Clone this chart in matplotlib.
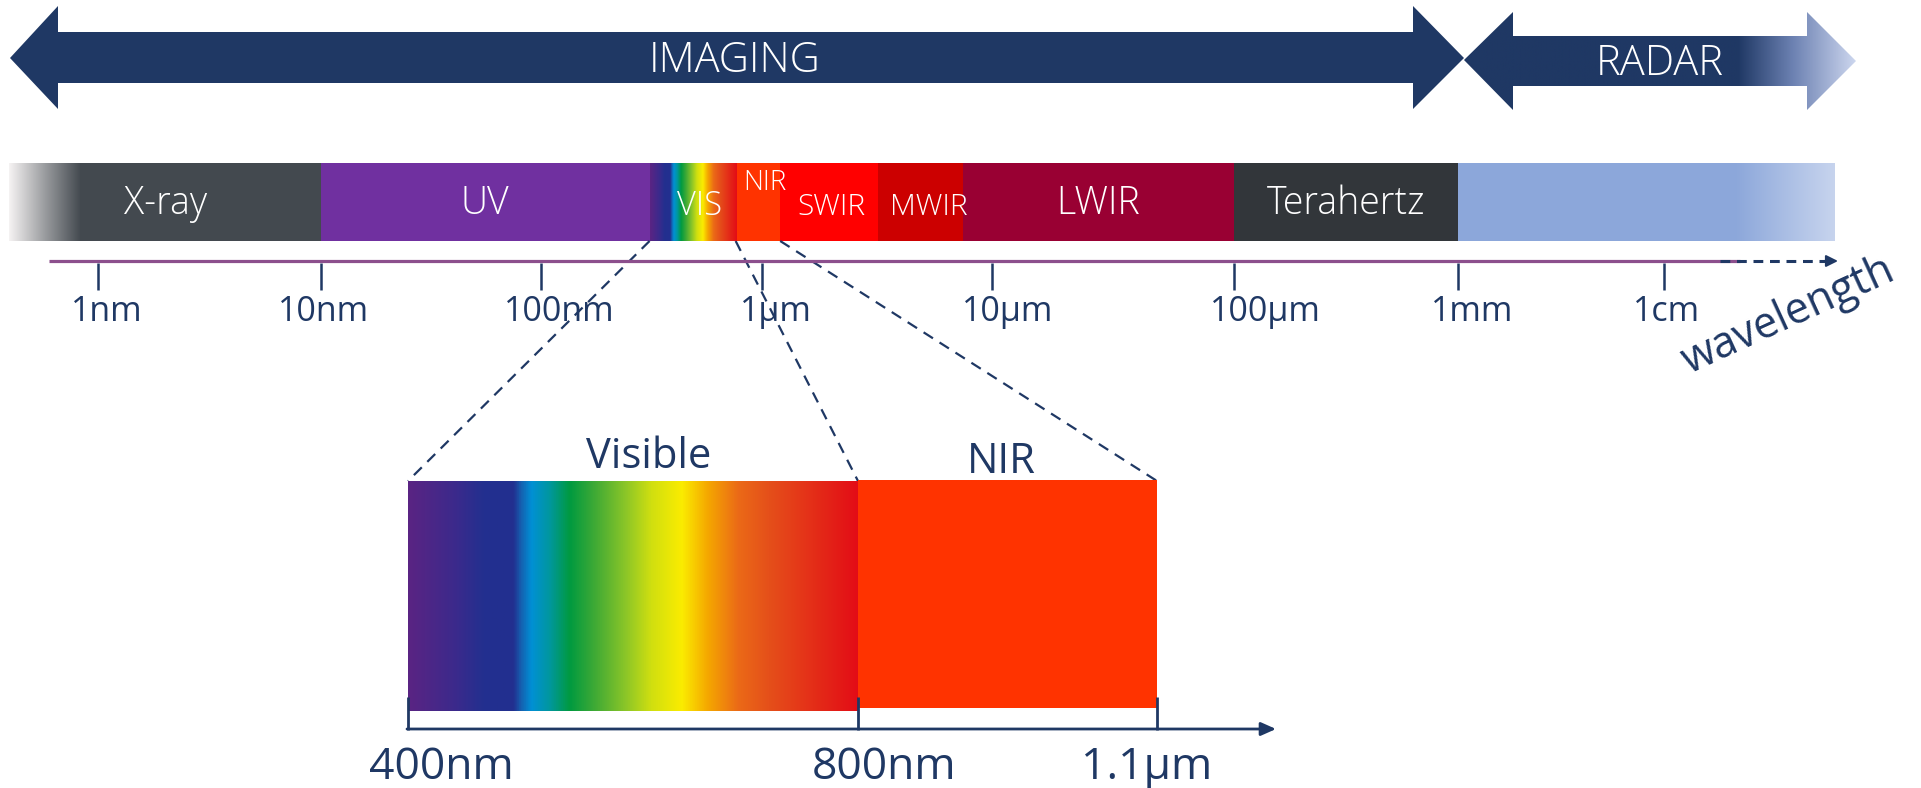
import numpy as np
import matplotlib
matplotlib.use('Agg')

import matplotlib.pyplot as plt
from matplotlib.colors import LinearSegmentedColormap
from matplotlib.patches import Polygon

plt.rcParams['font.family'] = ['Open Sans', 'DejaVu Sans']

# ==========================
# Data
# ==========================
# bands of the spectrum (wavelength in metres)
band_names = ["X-ray", "UV", "VIS", "NIR", "SWIR", "MWIR", "LWIR", "Terahertz", ""]
band_start = [0.4e-9, 10e-9, 310e-9, 0.76e-6, 1.2e-6, 3.2e-6, 7.5e-6, 100e-6, 1e-3]
band_end = [10e-9, 310e-9, 0.76e-6, 1.2e-6, 3.2e-6, 7.5e-6, 100e-6, 1e-3, 68e-3]

tick_values = [1e-9, 1e-8, 1e-7, 1e-6, 1e-5, 1e-4, 1e-3, 1e-2]
tick_labels = ["1nm", "10nm", "100nm", "1µm", "10µm", "100µm", "1mm", "1cm"]

# zoomed part (nm)
zoom_names = ["Visible", "NIR"]
zoom_start = [400, 800]
zoom_end = [800, 1100]
zoom_ticks = [400, 800, 1100]
zoom_tick_labels = ["400nm", "800nm", "1.1µm"]

use_names = ["IMAGING", "RADAR"]

# ==========================
# Styles / layout (pixels)
# ==========================
W, H = 1921, 788
NAVY = "#1f3864"
band_colors = ["#43494f", "#7030a0", None, "#ff3300", "#ff0000",
               "#cc0000", "#990033", "#32363a", "#8ca7da"]
band_fs = [27, 27, 23.5, 20, 21.5, 21.5, 27, 27, 27]
band_text_y = [204, 204, 206, 183, 207, 207, 204, 204, 204]
band_text_dx = [0, 0, 7, 7, 2, 8, 0, 0, 0]
tick_label_dx = [9, 3, 18, 14, 16, 31, 14, 3]
decade_px = [98, 321, 541, 762, 992, 1234, 1458, 1664]     # where 1nm..1cm sit
zoom_px = [408, 858, 1157]                                 # where 400/800/1100nm sit
BAND_TOP, BAND_BOT = 163, 241
AXIS_Y = 261

rainbow = LinearSegmentedColormap.from_list("vis", [
    (0.0, "#5a2483"), (0.108, "#3a2a8c"), (0.165, "#23308f"), (0.233, "#222f8f"),
    (0.25, "#1560b0"), (0.273, "#0090d5"), (0.313, "#00979f"), (0.358, "#009a40"),
    (0.415, "#40aa35"), (0.483, "#8cc628"), (0.54, "#d0df10"), (0.608, "#fbec00"),
    (0.665, "#f5a800"), (0.733, "#eb6a17"), (0.8, "#e5501a"), (1.0, "#e30c16")])


def piecewise(a, b):
    a = np.asarray(a, float)
    b = np.asarray(b, float)

    def f(v):
        v = np.asarray(v, float)
        out = np.interp(v, a, b)
        lo = (b[1] - b[0]) / (a[1] - a[0])
        hi = (b[-1] - b[-2]) / (a[-1] - a[-2])
        out = np.where(v < a[0], b[0] + (v - a[0]) * lo, out)
        out = np.where(v > a[-1], b[-1] + (v - a[-1]) * hi, out)
        return out
    return f


exps = np.log10(tick_values)
_wl_fwd = piecewise(exps, decade_px)
_wl_inv = piecewise(decade_px, exps)


def wl_forward(v):
    return _wl_fwd(np.log10(np.clip(np.asarray(v, float), 1e-30, None)))


def wl_inverse(p):
    return 10 ** _wl_inv(p)


zoom_forward = piecewise(zoom_ticks, zoom_px)
zoom_inverse = piecewise(zoom_px, zoom_ticks)

# ==========================
# Figure and axes
# ==========================
fig = plt.figure(figsize=(W / 100, H / 100), dpi=100)

axw = fig.add_axes([0, 0, 1, 1])         # wavelength axis
axw.set_xscale('function', functions=(wl_forward, wl_inverse))
axw.set_xlim(wl_inverse(0), wl_inverse(W))
axw.set_ylim(H, 0)
axw.axis('off')
axw.set_zorder(0)

ax = fig.add_axes([0, 0, 1, 1])          # pixel layout (drawn above the bands)
ax.set_xlim(0, W)
ax.set_ylim(H, 0)
ax.axis('off')
ax.set_zorder(1)
ax.patch.set_alpha(0)

axi = fig.add_axes([0, 0, 1, 1])         # zoom axis (nm)
axi.set_xscale('function', functions=(zoom_forward, zoom_inverse))
axi.set_xlim(zoom_inverse(0), zoom_inverse(W))
axi.set_ylim(H, 0)
axi.axis('off')
axi.set_zorder(2)
axi.patch.set_alpha(0)


def to_px(axis, x):
    pts = np.column_stack([np.atleast_1d(x), np.zeros(np.size(x))])
    return ax.transData.inverted().transform(axis.transData.transform(pts))[:, 0]


def gradient(x0, x1, y0, y1, cmap, zorder=3, clip=None):
    g = np.linspace(0, 1, 512).reshape(1, -1)
    im = ax.imshow(g, extent=[x0, x1, y1, y0], cmap=cmap, aspect='auto',
                   interpolation='bilinear', zorder=zorder)
    if clip is not None:
        im.set_clip_path(clip)
    return im


# ==========================
# Top arrows IMAGING / RADAR
# ==========================
img_arrow = Polygon([(10, 58), (58, 6), (58, 32), (1413, 32), (1413, 6), (1464, 58),
                     (1413, 109), (1413, 83), (58, 83), (58, 109)],
                    closed=True, facecolor=NAVY, edgecolor='none', zorder=3)
ax.add_patch(img_arrow)
radar_arrow = Polygon([(1464, 60), (1513, 12), (1513, 36), (1807, 36), (1807, 12),
                       (1856, 61), (1807, 110), (1807, 86), (1513, 86), (1513, 110)],
                      closed=True, facecolor='none', edgecolor='none', zorder=3)
ax.add_patch(radar_arrow)
radar_cmap = LinearSegmentedColormap.from_list(
    "radar", [(0, NAVY), (0.70, NAVY), (0.84, "#6c81b2"), (1.0, "#ccd6ee")])
gradient(1464, 1856, 12, 110, radar_cmap, clip=radar_arrow)

ax.text(735, 61, use_names[0], color='white', fontsize=30, fontweight='light',
        ha='center', va='center', zorder=5)
ax.text(1660, 64, use_names[1], color='white', fontsize=30, fontweight='light',
        ha='center', va='center', zorder=5)

# ==========================
# Spectrum bands
# ==========================
for s, e, c in zip(band_start, band_end, band_colors):
    if c is not None:
        axw.bar(s, BAND_BOT - BAND_TOP, width=e - s, bottom=BAND_TOP,
                align='edge', color=c, edgecolor='none', zorder=2)

# fades and the visible rainbow
x0, x1 = to_px(axw, [band_start[0], band_end[0]])
gradient(x0, x0 + 72, BAND_TOP, BAND_BOT,
         LinearSegmentedColormap.from_list("xf", ["#f6f3f3", "#9a9c9f", band_colors[0]]))
x0, x1 = to_px(axw, [band_start[-1], band_end[-1]])
gradient(x1 - 100, x1, BAND_TOP, BAND_BOT,
         LinearSegmentedColormap.from_list("rf", [band_colors[-1], "#c7d4ee"]))
x0, x1 = to_px(axw, [band_start[2], band_end[2]])
gradient(x0, x1, BAND_TOP, BAND_BOT, rainbow)

for name, s, e, fs, ty, dx in zip(band_names, band_start, band_end,
                                  band_fs, band_text_y, band_text_dx):
    if name:
        xc = to_px(axw, np.sqrt(s * e))[0] + dx
        ax.text(xc, ty, name, color='white', fontsize=fs,
                fontweight='light', ha='center', va='center', zorder=6)

# wavelength axis
ax.plot([49, 1740], [AXIS_Y, AXIS_Y], color="#8c4f8d", lw=2.3, zorder=2,
        solid_capstyle='butt')
ax.plot([1720, 1826], [AXIS_Y, AXIS_Y], color=NAVY, lw=2.2,
        linestyle=(0, (3.2, 2.2)), zorder=3)
ax.annotate('', xy=(1838, AXIS_Y), xytext=(1824, AXIS_Y),
            arrowprops=dict(arrowstyle='-|>,head_length=0.7,head_width=0.35',
                            color=NAVY, lw=1.5, shrinkA=0, shrinkB=0), zorder=3)
axw.vlines(tick_values, AXIS_Y + 2, 290, color=NAVY, lw=1.8, zorder=3)
for v, lab, dx in zip(tick_values, tick_labels, tick_label_dx):
    xv = to_px(axw, v)[0] + dx
    ax.text(xv, 312, lab, color=NAVY, fontsize=24.5, ha='center', va='center',
            zorder=0.5)
ax.text(1788, 316, "wavelength", color=NAVY, fontsize=31, rotation=24.6,
        rotation_mode='anchor', ha='center', va='center', zorder=4)

# ==========================
# Zoomed visible / NIR
# ==========================
vx0, vx1 = to_px(axi, [zoom_start[0], zoom_end[0]])
gradient(vx0, vx1, 481, 711, rainbow, zorder=2)
axi.bar(zoom_start[1], 228, width=zoom_end[1] - zoom_start[1], bottom=480,
        align='edge', color="#ff3300", edgecolor='none', zorder=2)

axi.text((zoom_start[0] + zoom_end[0]) / 2 + 14, 457, zoom_names[0], color=NAVY,
         fontsize=30, ha='center', va='center')
axi.text((zoom_start[1] + zoom_end[1]) / 2 - 6, 462, zoom_names[1], color=NAVY,
         fontsize=30, ha='center', va='center')

# connectors from the VIS / NIR bands to the zoom
pairs = [(band_start[2], zoom_start[0]), (band_end[2], zoom_end[0]),
         (band_end[3], zoom_end[1])]
for wl, nm in pairs:
    xa = to_px(axw, wl)[0]
    xb = to_px(axi, nm)[0]
    ax.plot([xa, xb], [BAND_BOT, 481], color=NAVY, lw=1.6,
            linestyle=(0, (5, 3.5)), zorder=1)

# zoom axis
ax.annotate('', xy=(1276, 729), xytext=(vx0 - 1, 729),
            arrowprops=dict(arrowstyle='-|>,head_length=0.9,head_width=0.4',
                            color=NAVY, lw=2, shrinkA=0, shrinkB=0), zorder=3)
axi.vlines(zoom_ticks, 697, 730, color=NAVY, lw=2, zorder=3)
label_dx = [33, 26, -10]
for v, lab, dx in zip(zoom_ticks, zoom_tick_labels, label_dx):
    xv = to_px(axi, v)[0] + dx
    ax.text(xv, 768, lab, color=NAVY, fontsize=32, ha='center', va='center')

fig.savefig("out.png", dpi=100)
